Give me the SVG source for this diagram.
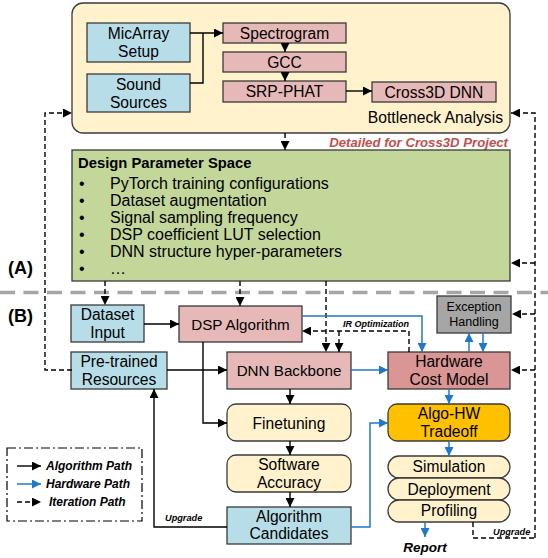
<svg xmlns="http://www.w3.org/2000/svg" width="548" height="558" viewBox="0 0 548 558">
<defs>
<marker id="ab" viewBox="0 0 10 10" refX="10" refY="5" markerWidth="9" markerHeight="9" markerUnits="userSpaceOnUse" orient="auto"><path d="M0,0 L10,5 L0,10 z" fill="#000"/></marker>
<marker id="au" viewBox="0 0 10 10" refX="10" refY="5" markerWidth="9" markerHeight="9" markerUnits="userSpaceOnUse" orient="auto"><path d="M0,0 L10,5 L0,10 z" fill="#1F78C8"/></marker>
<style>
text{font-family:"Liberation Sans",Arial,sans-serif;fill:#000}
.t{font-size:15.6px;text-anchor:middle}
.tl{font-size:15.6px;text-anchor:middle}
.bx{stroke:#3a3a3a;stroke-width:1.3}
.yl{fill:#FFF2CC}.bl{fill:#B7DEE8}.pk{fill:#E6B9B8}.hp{fill:#DA9694}.gr{fill:#C4D79B}.gy{fill:#A6A6A6}.gd{fill:#FFC000}
.k{fill:none;stroke:#000;stroke-width:1.4;marker-end:url(#ab)}
.kn{fill:none;stroke:#000;stroke-width:1.4}
.u{fill:none;stroke:#1F78C8;stroke-width:1.5;marker-end:url(#au)}
.d{fill:none;stroke:#000;stroke-width:1.4;stroke-dasharray:5 3;marker-end:url(#ab)}
.dn{fill:none;stroke:#000;stroke-width:1.4;stroke-dasharray:5 3}
.it{font-style:italic;font-weight:bold}
</style>
</defs>
<line x1="0" y1="292.5" x2="548" y2="292.5" stroke="#A6A6A6" stroke-width="3.5" stroke-dasharray="15 8.5"/>
<text x="8" y="274" style="font-size:18px;font-weight:bold">(A)</text>
<text x="8" y="322" style="font-size:18px;font-weight:bold">(B)</text>

<g id="bottleneck">
<rect x="72" y="3" width="438" height="130" rx="11" class="bx yl"/>
<text x="503" y="123" style="font-size:15.7px;text-anchor:end">Bottleneck Analysis</text>
</g>
<g id="micarray"><rect x="87" y="23" width="103" height="39" class="bx bl"/><text class="t" x="138.5" y="39">MicArray</text><text class="t" x="138.5" y="56.5">Setup</text></g>
<g id="sound"><rect x="87" y="74" width="103" height="38" class="bx bl"/><text class="t" x="138.5" y="90">Sound</text><text class="t" x="138.5" y="107.5">Sources</text></g>
<g id="spectrogram"><rect x="223" y="23" width="123" height="20" class="bx pk"/><text class="t" x="284.5" y="38.5">Spectrogram</text></g>
<g id="gcc"><rect x="223" y="52" width="123" height="20" class="bx pk"/><text class="t" x="284.5" y="67.5">GCC</text></g>
<g id="srp"><rect x="223" y="81" width="123" height="21" class="bx pk"/><text class="t" x="284.5" y="97">SRP-PHAT</text></g>
<g id="cross3d"><rect x="372" y="82" width="124" height="20" class="bx pk"/><text class="t" x="434" y="97.5">Cross3D DNN</text></g>
<text x="508" y="147" style="font-size:13.2px;text-anchor:end;fill:#C0504D" class="it">Detailed for Cross3D Project</text>

<g id="design">
<rect x="72" y="150" width="438" height="131" class="bx gr"/>
<text x="78" y="168" style="font-size:14.8px;font-weight:bold">Design Parameter Space</text>
<g style="font-size:16px">
<text x="79" y="189">•</text><text x="110" y="189">PyTorch training configurations</text>
<text x="79" y="206">•</text><text x="110" y="206">Dataset augmentation</text>
<text x="79" y="223">•</text><text x="110" y="223">Signal sampling frequency</text>
<text x="79" y="240">•</text><text x="110" y="240">DSP coefficient LUT selection</text>
<text x="79" y="257">•</text><text x="110" y="257">DNN structure hyper-parameters</text>
<text x="79" y="274">•</text><text x="110" y="274">…</text>
</g>
</g>

<g id="dataset"><rect x="71" y="305" width="73" height="37" class="bx bl"/><text class="t" x="107.5" y="320">Dataset</text><text class="t" x="107.5" y="338">Input</text></g>
<g id="pretrained"><rect x="71" y="352" width="96" height="37" class="bx bl"/><text class="t" x="119" y="367">Pre-trained</text><text class="t" x="119" y="384.5">Resources</text></g>
<g id="dsp"><rect x="179" y="306" width="123" height="36" class="bx pk"/><text class="tl" x="240.5" y="329.5" style="font-size:15.2px">DSP Algorithm</text></g>
<g id="dnn"><rect x="227" y="352" width="124" height="37" class="bx pk"/><text class="tl" x="289" y="376" style="font-size:15.2px">DNN Backbone</text></g>
<g id="hardware"><rect x="388" y="352" width="122" height="37" class="bx hp"/><text class="tl" x="449" y="367">Hardware</text><text class="tl" x="449" y="384.5">Cost Model</text></g>
<g id="exception"><rect x="437" y="296" width="74" height="37" class="bx gy"/><text x="474" y="311" style="font-size:12.5px;text-anchor:middle">Exception</text><text x="474" y="326" style="font-size:12.5px;text-anchor:middle">Handling</text></g>
<g id="tradeoff"><rect x="388" y="404" width="122" height="37" rx="9" class="bx gd"/><text class="tl" x="449" y="419">Algo-HW</text><text class="tl" x="449" y="436.5">Tradeoff</text></g>
<g id="simulation"><rect x="388" y="456" width="122" height="22" rx="11" class="bx yl"/><text class="t" x="449" y="472">Simulation</text></g>
<g id="deployment"><rect x="388" y="478" width="122" height="22" rx="11" class="bx yl"/><text class="t" x="449" y="494.5">Deployment</text></g>
<g id="profiling"><rect x="388" y="500" width="122" height="22" rx="11" class="bx yl"/><text class="t" x="449" y="516">Profiling</text></g>
<g id="finetuning"><rect x="227" y="404" width="124" height="37" rx="9" class="bx yl"/><text class="t" x="289" y="428.5">Finetuning</text></g>
<g id="accuracy"><rect x="227" y="455" width="124" height="37" rx="9" class="bx yl"/><text class="t" x="289" y="470">Software</text><text class="t" x="289" y="487.5">Accuracy</text></g>
<g id="candidates"><rect x="227" y="507" width="124" height="37" class="bx bl"/><text class="t" x="289" y="522">Algorithm</text><text class="t" x="289" y="539">Candidates</text></g>
<text x="425" y="552" style="font-size:13.5px;text-anchor:middle" class="it">Report</text>

<g id="connectors">
<path class="kn" d="M190,83 H203 V33"/>
<path class="k" d="M190,33 H223"/>
<path class="k" d="M285,43 V52"/>
<path class="k" d="M285,72 V81"/>
<path class="k" d="M346,91 H372"/>
<path class="d" d="M285,133 V150"/>
<path class="d" d="M535,538 V113 H511"/>
<path class="d" d="M535,263 H511"/>
<path class="d" d="M535,314 H512"/>
<path class="d" d="M535,370 H511"/>
<path class="dn" d="M473,522 V538 H535"/>
<path class="d" d="M72,370 H45 V113 H72"/>
<path class="d" d="M105,281 V305"/>
<path class="d" d="M240,281 V306"/>
<path class="d" d="M326,281 V352"/>
<path class="d" d="M409,352 V331 H302"/>
<path class="d" d="M339,331 V352"/>
<path class="u" d="M302,316 H422 V352"/>
<path class="u" d="M351,370 H388"/>
<path class="u" d="M469,352 V333"/>
<path class="u" d="M483,333 V352"/>
<path class="u" d="M449,389 V404"/>
<path class="u" d="M449,441 V456"/>
<path class="u" d="M351,527 H370 V423 H388"/>
<path class="u" d="M425,522 V537"/>
<path class="k" d="M144,324 H179"/>
<path class="k" d="M167,370 H227"/>
<path class="k" d="M203,342 V423 H227"/>
<path class="k" d="M290,389 V404"/>
<path class="k" d="M290,441 V455"/>
<path class="k" d="M290,492 V507"/>
<path class="k" d="M227,527 H154 V389"/>
<text x="343" y="327" style="font-size:9px" class="it">IR Optimization</text>
<text x="165" y="521" style="font-size:9.2px" class="it">Upgrade</text>
<text x="493" y="535" style="font-size:9.2px" class="it">Upgrade</text>
</g>

<g id="legend">
<rect x="7" y="448" width="135" height="73" fill="none" stroke="#000" stroke-width="1.2" stroke-dasharray="9 3 2 3"/>
<path class="k" d="M17,466 H41"/>
<path class="u" d="M17,484 H41"/>
<path class="d" d="M17,502 H41"/>
<text x="46" y="470" style="font-size:12px" class="it">Algorithm Path</text>
<text x="46" y="488" style="font-size:12px" class="it">Hardware Path</text>
<text x="49" y="506" style="font-size:12px" class="it">Iteration Path</text>
</g>
</svg>
